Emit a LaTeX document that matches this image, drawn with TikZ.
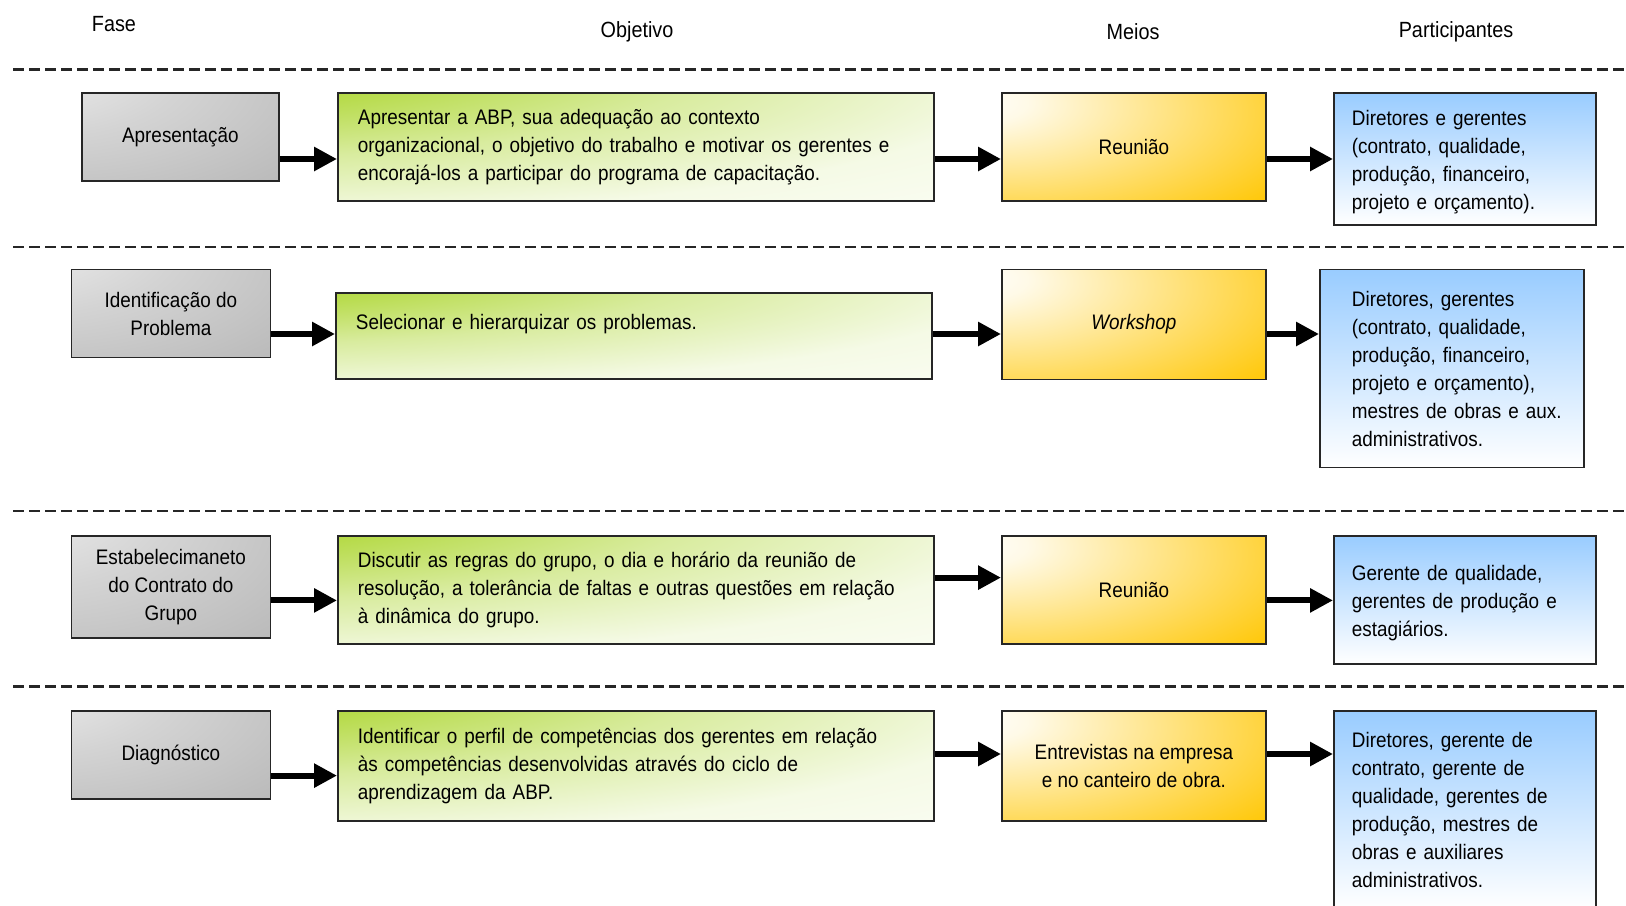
\documentclass[tikz,border=0pt]{standalone}
\usepackage{fontspec}
\setmainfont{Liberation Sans}[FakeStretch=0.9]
\usetikzlibrary{arrows.meta}

\definecolor{fasegray}{HTML}{B0B0B0}
\definecolor{objgreen}{HTML}{99CC00}
\definecolor{meiosyellow}{HTML}{FFC90E}
\definecolor{partblue}{HTML}{99CCFF}

\pgfdeclareradialshading{fasesh}{\pgfpoint{-45bp}{45bp}}{color(0bp)=(white!95!black);color(35bp)=(fasegray!55!white);color(85bp)=(fasegray);color(160bp)=(fasegray)}
\pgfdeclareradialshading{objsh}{\pgfpoint{-50bp}{50bp}}{color(0bp)=(objgreen);color(22bp)=(objgreen!78!white);color(42bp)=(objgreen!38!white);color(62bp)=(objgreen!10!white);color(85bp)=(white!98!objgreen);color(160bp)=(white)}
\pgfdeclareradialshading{meiossh}{\pgfpoint{-32bp}{22bp}}{color(0bp)=(white);color(10bp)=(meiosyellow!10!white);color(58bp)=(meiosyellow);color(160bp)=(meiosyellow)}

\begin{document}
\begin{tikzpicture}[x=0.5pt,y=-0.5pt,>={Triangle[length=11.5pt,width=11.5pt]},
  every node/.style={font=\fontsize{10.5}{14}\selectfont},
  caixa/.style={draw=black!85,line width=0.9pt,anchor=north west,inner ysep=0pt},
  fase/.style={caixa,shading=fasesh,align=center,minimum width=99.5pt},
  objetivo/.style={caixa,shading=objsh,align=left,inner xsep=10pt,text width=278pt},
  meio/.style={caixa,shading=meiossh,align=center,minimum width=132pt},
  part/.style={caixa,top color=partblue,bottom color=white,align=left,inner xsep=9pt,text width=113pt},
  sep/.style={black!85,line width=1.3pt,dash pattern=on 5.5pt off 2.5pt},
  seta/.style={->,line width=3pt}]
   \useasboundingbox (0,0) rectangle (1626,905);

   % 見出し
   \node (h1) at (114,24) {\fontsize{11}{14}\selectfont Fase};
   \node (h2) at (637,32) {\fontsize{11}{14}\selectfont Objetivo};
   \node (h3) at (1133,32) {\fontsize{11}{14}\selectfont Meios};
   \node (h4) at (1456,32) {\fontsize{11}{14}\selectfont Participantes};

   % 区切り線
   \draw[sep] (13,69.5) -- (1626,69.5);
   \draw[sep] (13,247) -- (1626,247);
   \draw[sep] (13,511) -- (1626,511);
   \draw[sep] (13,686.5) -- (1626,686.5);

   % 1段目
   \node[fase,minimum width=98.5pt,minimum height=44pt] (f1) at (81,92) {Apresentação};
   \node[objetivo,minimum height=54pt] (o1) at (337,92) {Apresentar a ABP, sua adequação ao contexto\\organizacional, o objetivo do trabalho e motivar os gerentes e\\encorajá-los a participar do programa de capacitação.};
   \node[meio,minimum height=54pt] (m1) at (1001,92) {Reunião};
   \node[part,minimum height=66pt] (p1) at (1333,92) {\rule{0pt}{11pt}Diretores e gerentes\\(contrato, qualidade,\\produção, financeiro,\\projeto e orçamento).};
   \coordinate (y1) at (0,159);
   \draw[seta] (f1.east |- y1) -- (o1.west |- y1);
   \draw[seta] (o1.east |- y1) -- (m1.west |- y1);
   \draw[seta] (m1.east |- y1) -- (p1.west |- y1);

   % 2段目
   \node[fase,minimum height=44pt] (f2) at (70.5,268.6) {Identificação do\\Problema};
   \node[objetivo,minimum height=43pt] (o2) at (335,292) {Selecionar e hierarquizar os problemas.\\\mbox{}};
   \node[meio,minimum height=55pt] (m2) at (1001,268.6) {\itshape Workshop};
   \node[part,inner xsep=16pt,text width=100pt,minimum height=99pt] (p2) at (1319,268.6) {Diretores, gerentes\\(contrato, qualidade,\\produção, financeiro,\\projeto e orçamento),\\\mbox{mestres de obras e aux.}\\administrativos.};
   \coordinate (y2) at (0,334);
   \draw[seta] (f2.east |- y2) -- (o2.west |- y2);
   \draw[seta] (o2.east |- y2) -- (m2.west |- y2);
   \draw[seta] (m2.east |- y2) -- (p2.west |- y2);

   % 3段目
   \node[fase,minimum height=51pt] (f3) at (70.5,535) {Estabelecimaneto\\do Contrato do\\Grupo};
   \node[objetivo,minimum height=54pt] (o3) at (337,535) {Discutir as regras do grupo, o dia e horário da reunião de\\resolução, a tolerância de faltas e outras questões em relação\\à dinâmica do grupo.};
   \node[meio,minimum height=54pt] (m3) at (1001,535) {Reunião};
   \node[part,minimum height=64pt] (p3) at (1333,535) {\rule{0pt}{11pt}Gerente de qualidade,\\gerentes de produção e\\estagiários.};
   \coordinate (y3a) at (0,600.4);
   \coordinate (y3b) at (0,577.6);
   \draw[seta] (f3.east |- y3a) -- (o3.west |- y3a);
   \draw[seta] (o3.east |- y3b) -- (m3.west |- y3b);
   \draw[seta] (m3.east |- y3a) -- (p3.west |- y3a);

   % 4段目
   \node[fase,minimum height=44pt] (f4) at (70.5,710) {Diagnóstico};
   \node[objetivo,minimum height=55pt] (o4) at (337,710) {Identificar o perfil de competências dos gerentes em relação\\às competências desenvolvidas através do ciclo de\\aprendizagem da ABP.};
   \node[meio,minimum height=55pt] (m4) at (1001,710) {Entrevistas na empresa\\e no canteiro de obra.};
   \node[part,minimum height=99pt] (p4) at (1333,710) {Diretores, gerente de\\contrato, gerente de\\qualidade, gerentes de\\produção, mestres de\\obras e auxiliares\\administrativos.};
   \coordinate (y4a) at (0,775.6);
   \coordinate (y4b) at (0,754);
   \draw[seta] (f4.east |- y4a) -- (o4.west |- y4a);
   \draw[seta] (o4.east |- y4b) -- (m4.west |- y4b);
   \draw[seta] (m4.east |- y4b) -- (p4.west |- y4b);

\end{tikzpicture}
\end{document}
